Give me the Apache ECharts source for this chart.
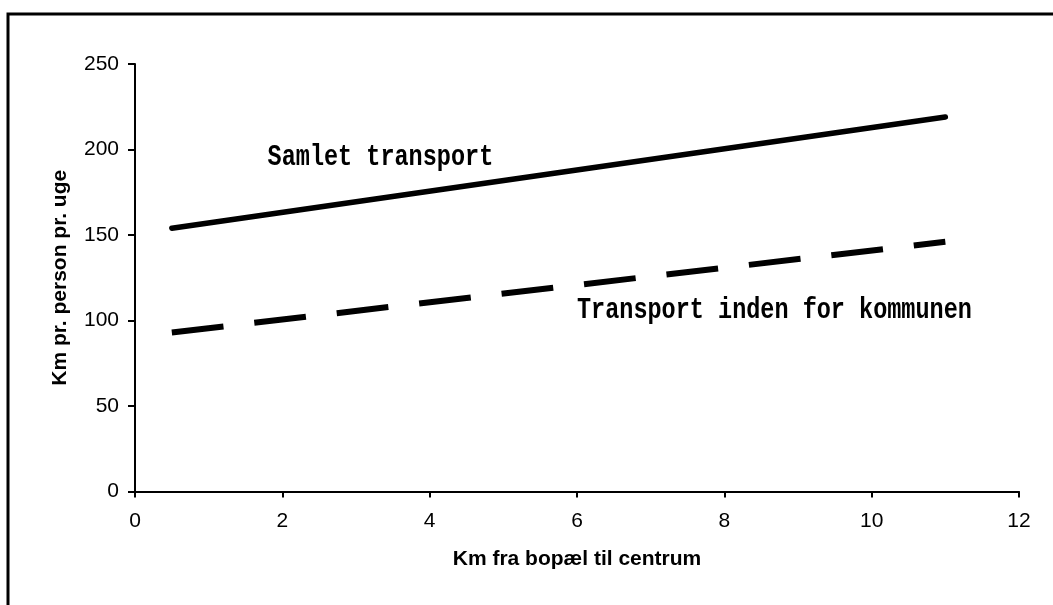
<!DOCTYPE html>
<html>
<head>
<meta charset="utf-8">
<script src="https://cdn.jsdelivr.net/npm/echarts@6/dist/echarts.min.js"></script>
<style>
  html, body { margin: 0; padding: 0; background: #fff; }
  #chart { width: 1053px; height: 605px; }
</style>
</head>
<body>
<div id="chart"></div>
<script>
// data (x: km to centre, y: km per person per week)
var xTicks = [0, 2, 4, 6, 8, 10, 12];
var yTicks = [0, 50, 100, 150, 200, 250];
var samletData = [[0.5, 154], [11, 219]];      // Samlet transport
var kommuneData = [[0.5, 93], [11, 146]];      // Transport inden for kommunen

// label anchors in data coords
var samletLabel = { text: 'Samlet transport', at: [1.8, 195] };
var kommuneLabel = { text: 'Transport inden for kommunen', at: [6.0, 105.5] };

var chart = echarts.init(document.getElementById('chart'));

var axisFont = { color: '#000', fontFamily: 'Liberation Sans, Arial', fontSize: 21 };
var titleFont = { color: '#000', fontFamily: 'Liberation Sans, Arial', fontSize: 21, fontWeight: 'bold' };

var option = {
    animation: false,
    backgroundColor: '#fff',
    grid: { left: 135, top: 64, right: 34, bottom: 113.5, containLabel: false },
    xAxis: {
        type: 'value',
        min: xTicks[0],
        max: xTicks[xTicks.length - 1],
        interval: 2,
        name: 'Km fra bopæl til centrum',
        nameLocation: 'middle',
        nameGap: 57,
        nameTextStyle: titleFont,
        axisLine: { lineStyle: { color: '#000', width: 2 } },
        axisTick: { inside: false, length: 6, lineStyle: { color: '#000', width: 2 } },
        axisLabel: Object.assign({ margin: 19 }, axisFont),
        splitLine: { show: false }
    },
    yAxis: {
        type: 'value',
        min: yTicks[0],
        max: yTicks[yTicks.length - 1],
        interval: 50,
        name: 'Km pr. person pr. uge',
        nameLocation: 'middle',
        nameGap: 64,
        nameTextStyle: titleFont,
        axisLine: { show: true, lineStyle: { color: '#000', width: 2 } },
        axisTick: { show: true, inside: false, length: 7, lineStyle: { color: '#000', width: 2 } },
        axisLabel: Object.assign({ margin: 16 }, axisFont),
        splitLine: { show: false }
    },
    series: [
        {
            name: 'Samlet transport',
            type: 'line',
            data: samletData,
            symbol: 'none',
            lineStyle: { color: '#000', width: 5.5, cap: 'round' }
        },
        {
            name: 'Transport inden for kommunen',
            type: 'line',
            data: kommuneData,
            symbol: 'none',
            lineStyle: { color: '#000', width: 6, type: [52, 31], cap: 'butt' }
        }
    ]
};
chart.setOption(option);

// outer frame + line labels
function labelGraphic(lbl) {
    var p = chart.convertToPixel({ xAxisIndex: 0, yAxisIndex: 0 }, lbl.at);
    return {
        type: 'text',
        x: p[0],
        y: p[1],
        scaleY: 1.25,
        style: {
            text: lbl.text,
            fill: '#000',
            font: 'bold 23.5px "Liberation Mono", "Courier New", monospace',
            align: 'left',
            verticalAlign: 'middle'
        }
    };
}

chart.setOption({
    graphic: [
        {
            type: 'rect',
            shape: { x: 8, y: 14, width: 1200, height: 800 },
            style: { fill: 'none', stroke: '#000', lineWidth: 3 }
        },
        labelGraphic(samletLabel),
        labelGraphic(kommuneLabel)
    ]
});
</script>
</body>
</html>
